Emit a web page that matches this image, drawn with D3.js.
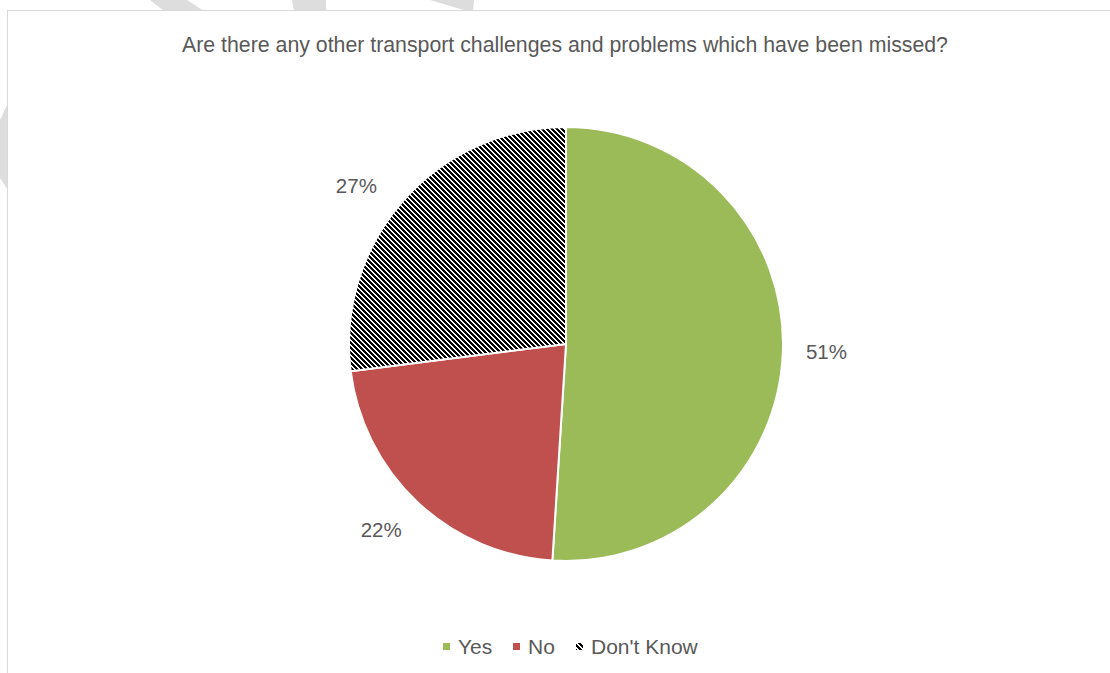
<!DOCTYPE html>
<html>
<head>
<meta charset="utf-8">
<script src="https://cdn.jsdelivr.net/npm/d3@7"></script>
<style>
  html, body { margin: 0; padding: 0; background: #ffffff; }
  svg { display: block; }
</style>
</head>
<body>
<div id="chart"></div>
<script>
const title = "Are there any other transport challenges and problems which have been missed?";
const categories = ["Yes", "No", "Don't Know"];
const values = [51, 22, 27];
const labels = ["51%", "22%", "27%"];
const colors = ["#9BBB59", "#C0504D", "url(#dkDnDiag)"];

const W = 1110, H = 673;
const cx = 566, cy = 344, r = 217;
const textColor = "#595959";
const font = "Arial, 'Liberation Sans', sans-serif";

const svg = d3.select("#chart").append("svg")
  .attr("width", W).attr("height", H);

// pattern (black/white downward diagonal)
const defs = svg.append("defs");
const pat = defs.append("pattern")
  .attr("id", "dkDnDiag")
  .attr("patternUnits", "userSpaceOnUse")
  .attr("width", 5).attr("height", 5);
pat.append("rect").attr("width", 5).attr("height", 5).attr("fill", "#ffffff");
const bits = ["11100", "01110", "00111", "10011", "11001"];
bits.forEach((row, y) => {
  row.split("").forEach((b, x) => {
    if (b === "1") pat.append("rect").attr("x", x).attr("y", y)
      .attr("width", 1).attr("height", 1).attr("fill", "#000000");
  });
});

// faint watermark pieces outside the chart area
const wm = [
  [[150,0],[187,0],[204,11],[164,11]],
  [[292,0],[326,0],[326,11],[294,11]],
  [[430,0],[474,0],[473,11],[467,11]],
  [[0,120],[8,103],[8,190],[0,178]]
];
svg.append("g").selectAll("polygon").data(wm).join("polygon")
  .attr("points", d => d.map(p => p.join(",")).join(" "))
  .attr("fill", "#DDDDDD");

// chart area
svg.append("rect")
  .attr("x", 7.5).attr("y", 10.5)
  .attr("width", W + 10).attr("height", H + 10)
  .attr("fill", "#ffffff")
  .attr("stroke", "#D9D9D9").attr("stroke-width", 1);

// title
svg.append("text")
  .attr("x", 565).attr("y", 52)
  .attr("text-anchor", "middle")
  .attr("font-family", font).attr("font-size", 21.3)
  .attr("fill", textColor)
  .text(title);

// pie
const pie = d3.pie().sort(null).value(d => d)(values);
const arc = d3.arc().innerRadius(0).outerRadius(r);
const labelR = r + 23;

const g = svg.append("g").attr("transform", `translate(${cx},${cy})`);
g.selectAll("path").data(pie).join("path")
  .attr("d", arc)
  .attr("fill", (d, i) => colors[i])
  .attr("stroke", "#ffffff")
  .attr("stroke-width", 2)
  .attr("stroke-linejoin", "round");

const clamp = v => Math.max(-1, Math.min(1, v));
g.selectAll("text").data(pie).join("text")
  .attr("font-family", font).attr("font-size", 20.5)
  .attr("fill", textColor)
  .attr("text-anchor", "middle")
  .attr("dy", "0.35em")
  .text((d, i) => labels[i])
  .each(function(d) {
    // best-fit style: labels in the upper half lean toward the horizontal
    const a0 = (d.startAngle + d.endAngle) / 2;
    const a = a0 + 0.09 * Math.max(0, Math.cos(a0)) * Math.sign(Math.sin(a0));
    const dx = Math.sin(a), dy = -Math.cos(a);
    const bb = this.getBBox();
    const x = labelR * dx + clamp(dx * 2) * bb.width / 2;
    const y = labelR * dy + clamp(dy * 2) * bb.height / 2 * 0.95;
    d3.select(this).attr("x", x).attr("y", y);
  });

// legend
const legendY = 647;
const legendFont = 21;
const gap = 21;
const legend = svg.append("g");
const items = [];
let x = 0;
const tmp = svg.append("text").attr("font-family", font).attr("font-size", legendFont);
categories.forEach((c, i) => {
  tmp.text(c);
  const tw = tmp.node().getComputedTextLength();
  items.push({ c, i, x, tw });
  x += 7 + 8 + tw + gap;
});
tmp.remove();
const totalW = x - gap;
const startX = 570 - totalW / 2;
items.forEach(it => {
  const gx = Math.round(startX + it.x);
  legend.append("rect")
    .attr("x", gx).attr("y", legendY - 4)
    .attr("width", 7).attr("height", 7)
    .attr("fill", colors[it.i]);
  legend.append("text")
    .attr("x", gx + 15).attr("y", legendY)
    .attr("dy", "0.35em")
    .attr("font-family", font).attr("font-size", legendFont)
    .attr("fill", textColor)
    .text(it.c);
});
</script>
</body>
</html>
